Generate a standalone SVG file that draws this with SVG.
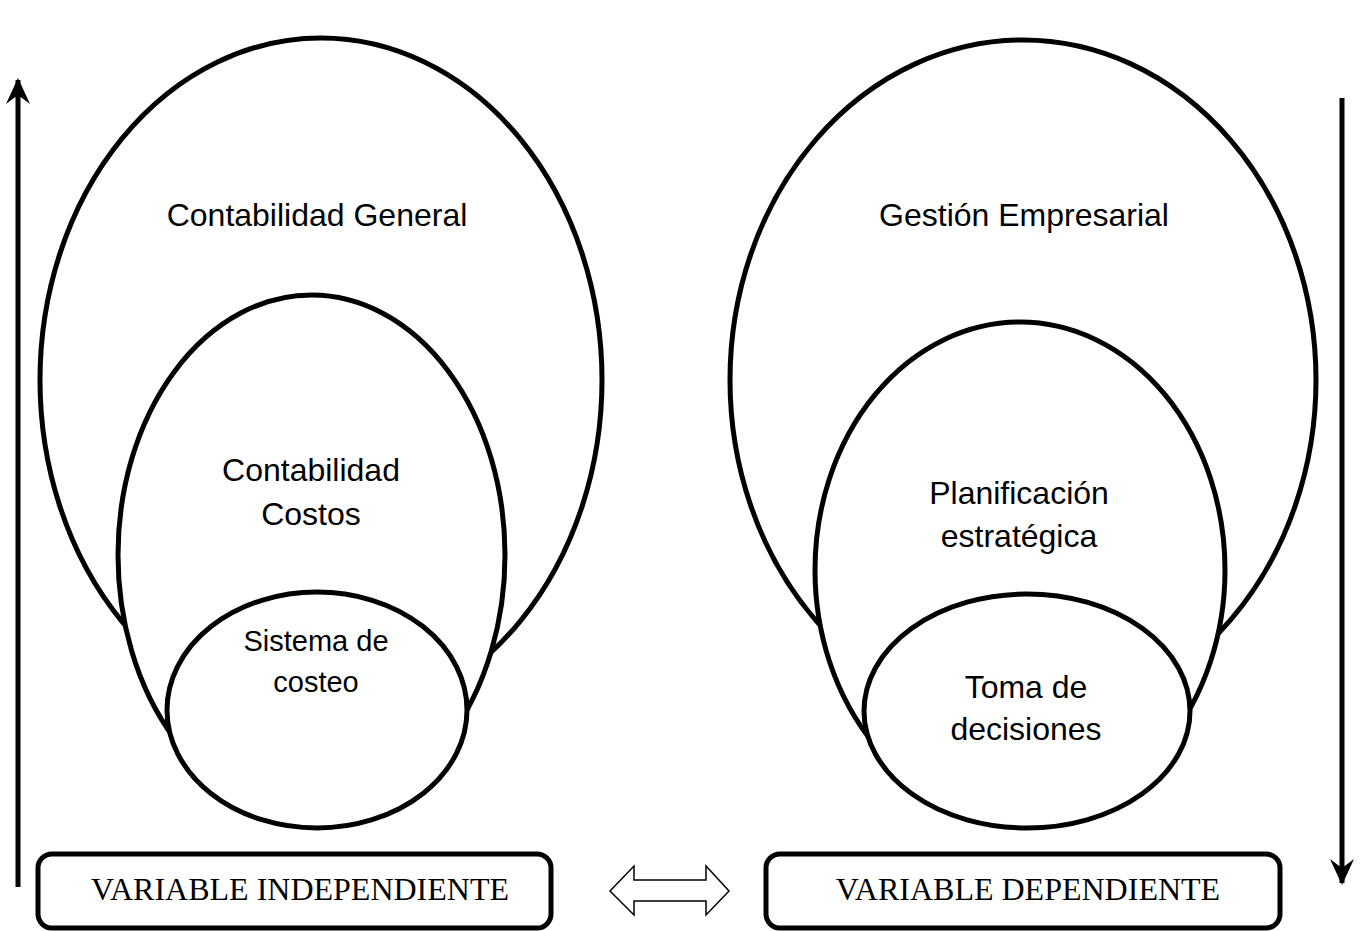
<svg xmlns="http://www.w3.org/2000/svg" width="1361" height="931" viewBox="0 0 1361 931">
<style>
.e{fill:#fff;stroke:#000;stroke-width:5}
.t{font-family:"Liberation Sans",Arial,sans-serif;font-size:32px;fill:#000;text-anchor:middle}
.s{font-size:29px}
.b{fill:#fff;stroke:#000;stroke-width:5}
.bt{font-family:"Liberation Serif","Times New Roman",serif;font-size:32px;fill:#000;text-anchor:middle}
.ax{stroke:#000;stroke-width:5;fill:none}
</style>
<defs>
<marker id="ah" viewBox="0 0 26 24" refX="24" refY="12" markerWidth="26" markerHeight="24" orient="auto" markerUnits="userSpaceOnUse">
<path d="M0,0 L26,12 L0,24 L9,12 Z" fill="#000"/>
</marker>
</defs>
<g id="left-outer"><ellipse class="e" cx="321" cy="380" rx="281" ry="342"/><text class="t" x="317" y="226">Contabilidad General</text></g>
<g id="left-middle"><ellipse class="e" cx="311.5" cy="555" rx="193.5" ry="260"/><text class="t" x="311" y="481">Contabilidad</text><text class="t" x="311" y="525">Costos</text></g>
<g id="left-inner"><ellipse class="e" cx="317" cy="710" rx="150" ry="118"/><text class="t s" x="316" y="651">Sistema de</text><text class="t s" x="316" y="692">costeo</text></g>
<g id="right-outer"><ellipse class="e" cx="1023" cy="380" rx="293" ry="340"/><text class="t" x="1024" y="226">Gestión Empresarial</text></g>
<g id="right-middle"><ellipse class="e" cx="1020" cy="570" rx="205" ry="248"/><text class="t" x="1019" y="504">Planificación</text><text class="t" x="1019" y="547">estratégica</text></g>
<g id="right-inner"><ellipse class="e" cx="1027" cy="711" rx="163" ry="117"/><text class="t" x="1026" y="698">Toma de</text><text class="t" x="1026" y="740">decisiones</text></g>
<g id="box-independiente"><rect class="b" x="38" y="854" width="513" height="74" rx="14"/><text class="bt" x="300" y="900">VARIABLE INDEPENDIENTE</text></g>
<g id="box-dependiente"><rect class="b" x="766" y="854" width="514" height="74" rx="14"/><text class="bt" x="1028" y="900">VARIABLE DEPENDIENTE</text></g>
<g id="connectors">
<line class="ax" x1="18" y1="887" x2="18" y2="80" marker-end="url(#ah)"/>
<line class="ax" x1="1342" y1="98" x2="1342" y2="883" marker-end="url(#ah)"/>
<path d="M610,891 L634,866 L634,880 L706,880 L706,866 L729,891 L706,915 L706,901 L634,901 L634,915 Z" fill="#fff" stroke="#000" stroke-width="1.5"/>
</g>
</svg>
